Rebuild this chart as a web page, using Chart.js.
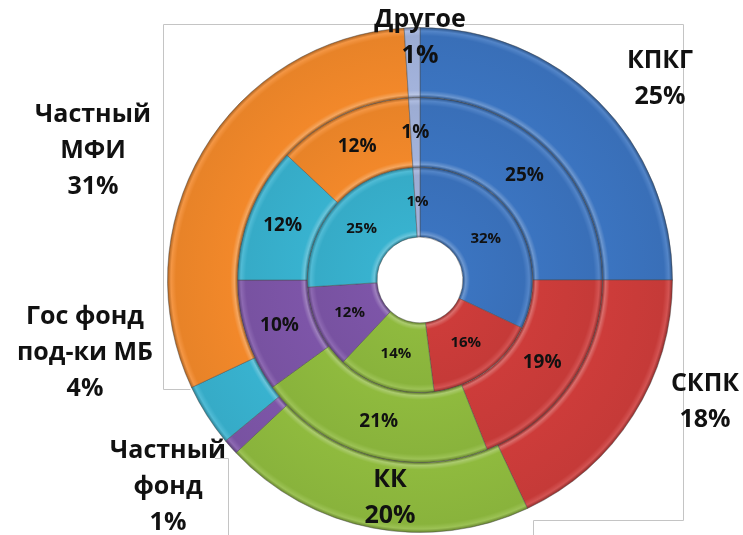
<!DOCTYPE html>
<html>
<head>
<meta charset="utf-8">
<script src="https://cdn.jsdelivr.net/npm/chart.js@4.4.1/dist/chart.umd.min.js"></script>
<style>
    html, body { margin: 0; padding: 0; background: #fff; }
    #wrap { width: 743px; height: 535px; position: relative; }
</style>
</head>
<body>
<div id="wrap"><canvas id="ringChart"></canvas></div>
<script>
// categories, outer ring -> inner ring
const categories = ['КПКГ', 'СКПК', 'КК', 'Частный фонд', 'Гос фонд под-ки МБ', 'Частный МФИ', 'Другое'];
const outerValues = [25, 18, 20, 1, 4, 31, 1];
const middleValues = [25, 19, 21, 10, 12, 12, 1];
const innerValues = [32, 16, 14, 12, 25, 0, 1];

// label text for the outer ring (split into lines like the original)
const outerLabelLines = [['КПКГ'], ['СКПК'], ['КК'], ['Частный', 'фонд'], ['Гос фонд', 'под-ки МБ'], ['Частный', 'МФИ'], ['Другое']];

const colors = ['#3b74c0', '#cd3c3a', '#8fba3e', '#7d55a8', '#38b2cf', '#f2882a', '#a3b3dc'];

// where the outer labels sit, relative to the ring centre (hand placed in the original)
const outerLabelOffsets = [[240, -201], [285, 122], [-30, 218], [-252, 207], [-335, 73], [-327, -129], [0, -242]];

function mix(hex, target, amt) {
    const n = parseInt(hex.slice(1), 16);
    const r = (n >> 16) & 255, g = (n >> 8) & 255, b = n & 255;
    const m = c => Math.round(c + (target - c) * amt);
    return `rgb(${m(r)}, ${m(g)}, ${m(b)})`;
}

// bevel-ish shading for each ring
function ringFill(ctx) {
    const base = colors[ctx.dataIndex];
    if (ctx.type !== 'data') return base;
    const chart = ctx.chart;
    const ca = chart.chartArea;
    const c = chart.getDatasetMeta(ctx.datasetIndex).controller;
    if (!ca || !c.outerRadius) return base;
    const cx = (ca.left + ca.right) / 2;
    const cy = (ca.top + ca.bottom) / 2;
    const g = chart.ctx.createRadialGradient(cx, cy, c.innerRadius, cx, cy, c.outerRadius);
    g.addColorStop(0, mix(base, 0, 0.3));
    g.addColorStop(0.04, mix(base, 255, 0.25));
    g.addColorStop(0.1, base);
    g.addColorStop(0.88, mix(base, 0, 0.04));
    g.addColorStop(0.95, mix(base, 255, 0.12));
    g.addColorStop(1, mix(base, 0, 0.3));
    return g;
}

const framePlugin = {
    id: 'frame',
    beforeDraw(chart) {
        const ctx = chart.ctx;
        ctx.save();
        ctx.strokeStyle = '#c4c4c4';
        ctx.lineWidth = 1;
        ctx.beginPath();
        ctx.moveTo(190.5, 389.5);
        ctx.lineTo(163.5, 389.5);
        ctx.lineTo(163.5, 24.5);
        ctx.lineTo(683.5, 24.5);
        ctx.lineTo(683.5, 520.5);
        ctx.lineTo(533.5, 520.5);
        ctx.lineTo(533.5, 535);
        ctx.moveTo(215, 458.5);
        ctx.lineTo(228.5, 458.5);
        ctx.lineTo(228.5, 535);
        ctx.stroke();
        ctx.restore();
    }
};

const labelPlugin = {
    id: 'ringLabels',
    afterDatasetsDraw(chart) {
        const ctx = chart.ctx;
        const ca = chart.chartArea;
        const cx = (ca.left + ca.right) / 2;
        const cy = (ca.top + ca.bottom) / 2;
        ctx.save();
        ctx.fillStyle = '#111';
        ctx.textAlign = 'center';
        ctx.textBaseline = 'middle';

        // inner two rings: value at the middle of each segment
        [[1, 19], [2, 15]].forEach(([di, size]) => {
            const meta = chart.getDatasetMeta(di);
            const values = chart.data.datasets[di].data;
            ctx.font = `bold ${size}px "Open Sans", sans-serif`;
            meta.data.forEach((arc, i) => {
                if (!values[i]) return;
                const p = arc.getCenterPoint();
                ctx.fillText(values[i] + '%', p.x, p.y);
            });
        });

        // outer ring: name + value outside
        const values = chart.data.datasets[0].data;
        ctx.font = 'bold 25px "Open Sans", sans-serif';
        const lh = 36;
        values.forEach((v, i) => {
            const lines = outerLabelLines[i].concat([v + '%']);
            const [dx, dy] = outerLabelOffsets[i];
            const top = cy + dy - (lines.length - 1) * lh / 2;
            lines.forEach((t, k) => ctx.fillText(t, cx + dx, top + k * lh));
        });
        ctx.restore();
    }
};

const ringDataset = (label, data) => ({
    label: label,
    data: data,
    backgroundColor: ringFill,
    borderColor: 'rgba(70, 70, 70, 0.45)',
    borderWidth: 1
});

new Chart(document.getElementById('ringChart'), {
    type: 'doughnut',
    data: {
        labels: categories,
        datasets: [
            ringDataset('outer', outerValues),
            ringDataset('middle', middleValues),
            ringDataset('inner', innerValues)
        ]
    },
    options: {
        responsive: true,
        maintainAspectRatio: false,
        animation: false,
        cutout: '17%',
        layout: { padding: { left: 167, right: 70, top: 27, bottom: 2 } },
        plugins: {
            legend: { display: false },
            tooltip: { enabled: false }
        }
    },
    plugins: [framePlugin, labelPlugin]
});
</script>
</body>
</html>
